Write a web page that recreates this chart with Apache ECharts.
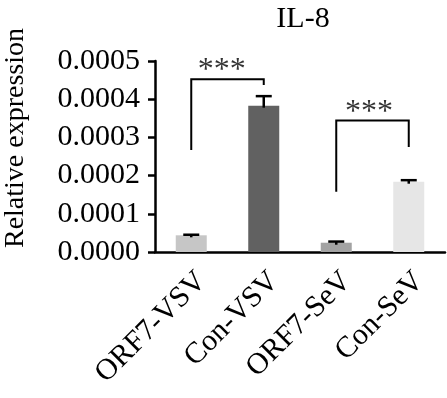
<!DOCTYPE html>
<html>
<head>
<meta charset="utf-8">
<script src="https://cdn.jsdelivr.net/npm/echarts@6/dist/echarts.min.js"></script>
<style>
  html, body { margin: 0; padding: 0; background: #fff; }
  #main { width: 447px; height: 398px; }
</style>
</head>
<body>
<div id="main"></div>
<script>
// data
const categories = ['ORF7-VSV', 'Con-VSV', 'ORF7-SeV', 'Con-SeV'];
const means = [0.0000437, 0.000383, 0.0000243, 0.000184];
const errors = [0.0000015, 0.000025, 0.000003, 0.000004];
const barColors = ['#c6c6c6', '#616161', '#a3a3a3', '#e6e6e6'];
const yMax = 0.0005;
const yStep = 0.0001;
// significance brackets: [left x, right x, left foot, top, right foot]
const brackets = [
    [0, 1, 0.000267, 0.000452, 0.000437],
    [2, 3, 0.000158, 0.000344, 0.000275]
];
const stars = [[0.42, 0.000474], [2.45, 0.000365]];

const serif = 'Liberation Serif';
const chart = echarts.init(document.getElementById('main'));

const option = {
    animation: false,
    title: {
        text: 'IL-8',
        left: 298,
        top: -1,
        textAlign: 'center',
        textStyle: { fontFamily: serif, fontSize: 30, fontWeight: 'normal', color: '#000' }
    },
    grid: { left: 155, right: 2, top: 61, bottom: 146, containLabel: false, outerBoundsMode: 'none' },
    xAxis: [{
        type: 'category',
        data: categories,
        axisLine: { lineStyle: { color: '#000', width: 2.5 } },
        axisTick: { alignWithLabel: true, length: 7, lineStyle: { color: '#000', width: 2.5 } },
        axisLabel: {
            rotate: 45,
            margin: 14,
            interval: 0,
            verticalAlign: 'top',
            fontFamily: serif,
            fontSize: 30,
            color: '#000'
        }
    }, {
        type: 'value',
        min: -0.5,
        max: 3.5,
        show: false
    }],
    yAxis: {
        type: 'value',
        min: 0,
        max: yMax,
        interval: yStep,
        name: 'Relative expression',
        nameLocation: 'middle',
        nameGap: 125,
        nameTextStyle: { fontFamily: serif, fontSize: 28, color: '#000', padding: [0, 0, 0, 37] },
        splitLine: { show: false },
        axisLine: { show: true, onZero: false, lineStyle: { color: '#000', width: 2.5 } },
        axisTick: { show: true, length: 7, lineStyle: { color: '#000', width: 2.5 } },
        axisLabel: {
            margin: 15,
            fontFamily: serif,
            fontSize: 30,
            color: '#000',
            formatter: v => v.toFixed(4)
        }
    },
    series: [{
        type: 'bar',
        barWidth: 31,
        data: means.map((v, i) => ({ value: v, itemStyle: { color: barColors[i] } })),
        z: 2
    }, {
        type: 'custom',
        z: 3,
        data: means.map((v, i) => [i, v, errors[i]]),
        renderItem: (params, api) => {
            const top = api.coord([api.value(0), api.value(1) + api.value(2)]);
            const base = api.coord([api.value(0), api.value(1)]);
            const half = 8;
            const style = { stroke: '#000', lineWidth: 2.5 };
            return {
                type: 'group',
                children: [
                    { type: 'line', shape: { x1: base[0], y1: base[1] + 2, x2: top[0], y2: top[1] }, style },
                    { type: 'line', shape: { x1: top[0] - half, y1: top[1], x2: top[0] + half, y2: top[1] }, style }
                ]
            };
        }
    }, {
        type: 'custom',
        xAxisIndex: 1,
        z: 4,
        data: brackets,
        renderItem: (params, api) => {
            const a = api.coord([api.value(0), api.value(2)]);
            const b = api.coord([api.value(0), api.value(3)]);
            const c = api.coord([api.value(1), api.value(3)]);
            const d = api.coord([api.value(1), api.value(4)]);
            return {
                type: 'polyline',
                shape: { points: [a, b, c, d] },
                style: { stroke: '#000', lineWidth: 2, fill: null }
            };
        }
    }, {
        type: 'scatter',
        xAxisIndex: 1,
        data: stars,
        symbolSize: 1,
        itemStyle: { color: 'rgba(0,0,0,0)' },
        label: {
            show: true,
            position: 'inside',
            formatter: '***',
            fontFamily: serif,
            fontSize: 32,
            color: '#000'
        },
        z: 4
    }]
};

chart.setOption(option);
</script>
</body>
</html>
